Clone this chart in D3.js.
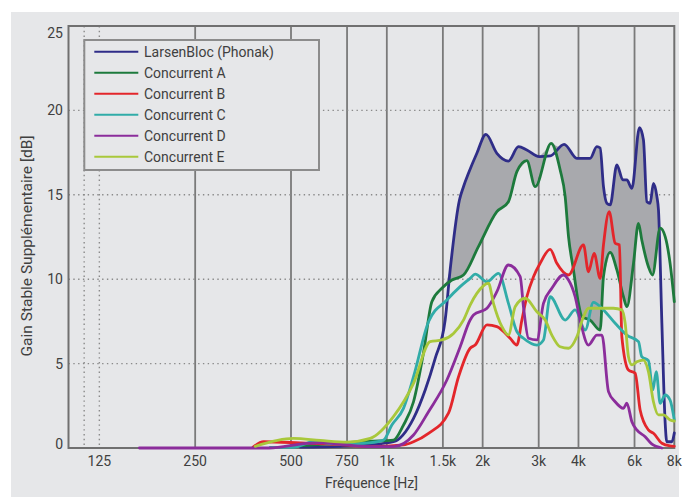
<!DOCTYPE html>
<html>
<head>
<meta charset="utf-8">
<script src="https://cdnjs.cloudflare.com/ajax/libs/d3/7.8.5/d3.min.js"></script>
<style>
  html, body { margin: 0; padding: 0; background: #fff; }
  svg { display: block; }
</style>
</head>
<body>
<div class="gain"></div>
<script>
// frequency [Hz], gain [dB]
const larsenBloc = [[534,0.05],[714,0.1],[887,0.2],[1049,0.37],[1213,1.76],[1320,3.44],[1419,5.31],[1525,7.58],[1581,10.55],[1691,14.69],[1741,15.48],[1805,16.27],[1918,17.46],[2048,18.58],[2217,17.46],[2410,17.0],[2592,17.85],[2753,17.65],[3010,17.26],[3260,17.3],[3607,17.99],[3953,17.16],[4352,17.16],[4569,17.85],[4679,17.77],[4793,15.48],[4911,14.5],[5029,14.4],[5281,16.77],[5515,15.88],[5676,15.88],[5886,15.38],[6218,18.98],[6400,18.25],[6560,14.59],[6717,14.5],[6880,15.68],[7054,14.89],[7135,14.1],[7312,7.4],[7489,1.48],[7576,0.37],[7862,0.37],[8000,0.89]]
const concurrentA = [[497,0.1],[664,0.25],[887,0.4],[1049,0.47],[1128,1.36],[1213,2.74],[1303,5.61],[1385,8.67],[1489,9.46],[1601,9.95],[1741,10.25],[1940,11.93],[2217,14.0],[2410,14.59],[2562,16.37],[2753,17.02],[2925,15.48],[3283,18.05],[3504,16.47],[3633,14.89],[3722,12.52],[3858,10.55],[4000,8.57],[4100,7.78],[4352,7.58],[4679,6.99],[4793,10.15],[5029,11.59],[5281,10.55],[5538,8.96],[5676,8.37],[5955,10.94],[6174,13.31],[6323,12.32],[6635,10.74],[6831,10.25],[7221,13.02],[7489,12.52],[7760,10.94],[8000,8.67]]
const concurrentB = [[380,0.05],[410,0.37],[534,0.3],[714,0.2],[887,0.08],[1128,0.18],[1213,0.37],[1352,0.87],[1562,2.06],[1680,4.22],[1827,5.91],[1895,6.1],[2064,7.29],[2217,7.19],[2440,6.5],[2562,6.1],[2656,7.58],[2753,8.96],[2889,10.15],[3031,10.94],[3259,11.77],[3421,10.94],[3722,10.25],[4147,12.03],[4300,10.44],[4480,11.53],[4679,10.05],[4793,12.03],[4995,14.0],[5216,12.13],[5380,12.03],[5474,6.59],[5742,4.62],[6028,4.43],[6248,2.25],[6635,1.07],[6880,0.87],[7312,0.28],[7760,0.12],[8000,0.1]]
const concurrentC = [[430,0.04],[509,0.04],[588,0.37],[697,0.24],[845,0.28],[976,0.47],[1037,1.36],[1128,2.35],[1213,4.22],[1352,7.48],[1544,8.77],[1700,9.56],[1827,10.05],[1895,10.3],[2064,9.85],[2242,10.35],[2410,8.57],[2562,6.89],[2687,6.5],[2961,6.1],[3105,6.4],[3259,8.96],[3633,7.58],[3905,8.18],[4200,6.99],[4457,8.63],[4793,8.18],[5216,7.39],[5676,6.69],[6174,6.3],[6323,5.41],[6635,5.17],[6850,3.44],[7020,4.52],[7221,2.65],[7489,3.14],[7760,2.84],[8000,1.66]]
const concurrentD = [[167,0],[427,0],[561,0.28],[632,0.31],[749,0.18],[887,0.08],[1049,0.08],[1213,0.77],[1352,2.15],[1544,4.03],[1700,6.0],[1827,7.58],[1872,7.88],[2064,8.28],[2217,9.26],[2410,10.84],[2624,10.15],[2687,8.37],[2786,6.5],[2961,6.4],[3105,8.57],[3299,9.46],[3588,10.25],[3722,9.95],[3905,8.96],[4048,7.58],[4300,6.1],[4569,6.69],[4740,6.69],[4970,3.34],[5216,2.74],[5538,2.35],[5676,2.65],[5886,1.56],[6100,1.07],[6480,0.67],[6790,0.24],[7312,0]]
const concurrentE = [[386,0.1],[509,0.57],[618,0.45],[749,0.35],[887,0.57],[1049,1.86],[1213,3.83],[1368,6.3],[1489,6.4],[1620,6.79],[1741,7.58],[1827,8.47],[1918,9.16],[2086,9.76],[2163,8.57],[2299,7.19],[2410,6.69],[2530,8.37],[2721,8.87],[2961,8.07],[3144,7.58],[3299,6.69],[3504,6.0],[3722,5.91],[3953,6.59],[4147,7.78],[4300,8.28],[4679,8.28],[5150,8.28],[5474,8.18],[5607,7.39],[5742,5.41],[5886,4.92],[6100,5.11],[6400,5.21],[6635,4.52],[6880,2.74],[7135,1.96],[7398,1.96],[7760,1.66],[8000,1.6]]

const seriesNames = ["LarsenBloc (Phonak)", "Concurrent A", "Concurrent B", "Concurrent C", "Concurrent D", "Concurrent E"]
const seriesData = [larsenBloc, concurrentA, concurrentB, concurrentC, concurrentD, concurrentE]
const seriesColors = ["#2f2d88", "#1d7a3c", "#e3262b", "#31aca8", "#8b2d9b", "#a9c83b"]

const xTicks = [125, 250, 500, 750, 1000, 1500, 2000, 3000, 4000, 6000, 8000]
const xTickLabels = ["125", "250", "500", "750", "1k", "1.5k", "2k", "3k", "4k", "6k", "8k"]
const xGridSolid = [250, 500, 750, 1000, 1500, 2000, 3000, 4000, 6000]
const xGridDotted = [112, 125]
const yTicks = [0, 5, 10, 15, 20, 25]
const yGridDotted = [5, 10, 15, 20]

let width = 683, height = 497
let plotLeft = 68.5, plotRight = 674.3, plotTop = 26, plotBottom = 448
let textColor = "#404040", gridColor = "#7a7a7a", font = "Roboto, 'Open Sans', sans-serif"

let svg = d3.select(".gain")
    .append("svg")
    .attr("width", width)
    .attr("height", height)

svg.append("rect")
    .attr("x", 11).attr("y", 12)
    .attr("width", 668).attr("height", height - 12)
    .attr("fill", "#e6e7e9")

let x = d3.scaleLog().domain([100, 8000]).range([plotLeft, plotRight])
let y = d3.scaleLinear().domain([0, 25]).range([plotBottom, plotTop])

// grid
let grid = svg.append("g")
grid.selectAll(".gs")
    .data(xGridSolid)
    .enter()
    .append("line")
    .attr("x1", d => x(d)).attr("x2", d => x(d))
    .attr("y1", plotTop).attr("y2", plotBottom)
    .attr("stroke", gridColor)
    .attr("stroke-width", 1.8)
grid.selectAll(".gd")
    .data(xGridDotted)
    .enter()
    .append("line")
    .attr("x1", d => x(d)).attr("x2", d => x(d))
    .attr("y1", plotTop).attr("y2", plotBottom)
    .attr("stroke", "#8a8a8a")
    .attr("stroke-width", 1.4)
    .attr("stroke-dasharray", "1.4,3.4")
grid.selectAll(".hd")
    .data(yGridDotted)
    .enter()
    .append("line")
    .attr("x1", plotLeft).attr("x2", plotRight)
    .attr("y1", d => y(d)).attr("y2", d => y(d))
    .attr("stroke", "#8a8a8a")
    .attr("stroke-width", 1.4)
    .attr("stroke-dasharray", "1.4,3.4")

// grey zone between LarsenBloc and Concurrent A
function interp(data, f) {
    if (f <= data[0][0]) return data[0][1]
    for (let i = 1; i < data.length; i++) {
        if (f <= data[i][0]) {
            let a = data[i - 1], b = data[i]
            let t = (Math.log(f) - Math.log(a[0])) / (Math.log(b[0]) - Math.log(a[0]))
            return a[1] + t * (b[1] - a[1])
        }
    }
    return data[data.length - 1][1]
}
let fillFreq = Array.from(new Set(larsenBloc.concat(concurrentA).map(d => d[0])))
    .filter(f => f >= 1300)
    .sort((a, b) => a - b)
let fillData = fillFreq.map(f => {
    let b = interp(larsenBloc, f), g = interp(concurrentA, f)
    return { f: f, lo: g, hi: Math.max(b, g) }
})
svg.append("path")
    .datum(fillData)
    .attr("fill", "#a8a9ad")
    .attr("d", d3.area()
        .x(d => x(d.f))
        .y0(d => y(d.lo))
        .y1(d => y(d.hi)))

// frame
svg.append("rect")
    .attr("x", plotLeft).attr("y", plotTop)
    .attr("width", plotRight - plotLeft).attr("height", plotBottom - plotTop)
    .attr("fill", "none")
    .attr("stroke", "#707070")
    .attr("stroke-width", 2)

// curves
let line = d3.line()
    .x(d => x(d[0]))
    .y(d => y(d[1]))
    .curve(d3.curveMonotoneX)
svg.append("g")
    .selectAll("path")
    .data(seriesData)
    .enter()
    .append("path")
    .attr("fill", "none")
    .attr("stroke", (d, i) => seriesColors[i])
    .attr("stroke-width", 2.8)
    .attr("stroke-linejoin", "round")
    .attr("stroke-linecap", "round")
    .attr("d", d => line(d))

// axis labels
svg.append("g")
    .selectAll("text")
    .data(xTicks)
    .enter()
    .append("text")
    .attr("x", d => x(d))
    .attr("y", 466)
    .attr("text-anchor", "middle")
    .attr("font-size", 14)
    .attr("font-family", font)
    .attr("fill", textColor)
    .text((d, i) => xTickLabels[i])
svg.append("g")
    .selectAll("text")
    .data(yTicks)
    .enter()
    .append("text")
    .attr("x", 63)
    .attr("y", d => y(d) + (d == 25 ? 7 : d == 0 ? -4 : 0))
    .attr("dy", "0.35em")
    .attr("text-anchor", "end")
    .attr("font-size", 14)
    .attr("font-family", font)
    .attr("fill", textColor)
    .text(d => d)
svg.append("text")
    .attr("x", (plotLeft + plotRight) / 2)
    .attr("y", 488)
    .attr("text-anchor", "middle")
    .attr("font-size", 14)
    .attr("font-family", font)
    .attr("fill", textColor)
    .text("Fréquence [Hz]")
svg.append("text")
    .attr("transform", `translate(32,${(plotTop + plotBottom) / 2 + 9}) rotate(-90)`)
    .attr("text-anchor", "middle")
    .attr("font-size", 15.5)
    .attr("font-family", font)
    .attr("fill", textColor)
    .text("Gain Stable Supplémentaire [dB]")

// legend
let legend = svg.append("g")
legend.append("rect")
    .attr("x", 84.3).attr("y", 40)
    .attr("width", 234.7).attr("height", 130)
    .attr("fill", "#e6e7e9")
    .attr("stroke", "#8c8c8c")
    .attr("stroke-width", 2)
legend.selectAll("line")
    .data(seriesNames)
    .enter()
    .append("line")
    .attr("x1", 94.3).attr("x2", 138.3)
    .attr("y1", (d, i) => 51.7 + 21 * i)
    .attr("y2", (d, i) => 51.7 + 21 * i)
    .attr("stroke", (d, i) => seriesColors[i])
    .attr("stroke-width", 2)
legend.selectAll("text")
    .data(seriesNames)
    .enter()
    .append("text")
    .attr("x", 144)
    .attr("y", (d, i) => 51.7 + 21 * i)
    .attr("dy", "0.35em")
    .attr("font-size", 14)
    .attr("font-family", font)
    .attr("fill", textColor)
    .text(d => d)
</script>
</body>
</html>
